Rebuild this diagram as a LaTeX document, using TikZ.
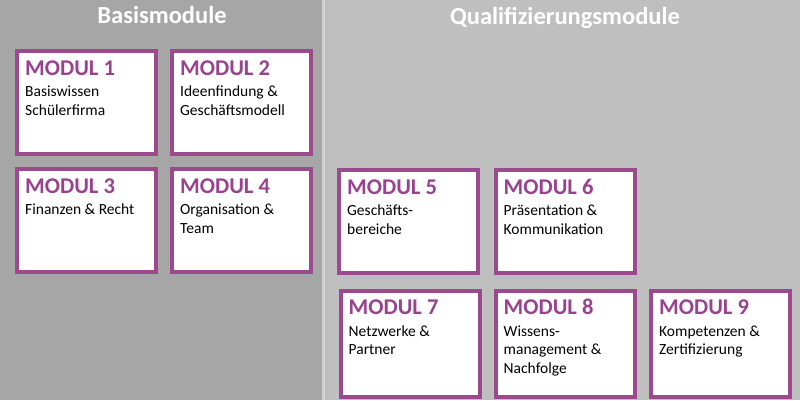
\documentclass[tikz,border=0pt]{standalone}
\usepackage{fontspec}
\setmainfont{Carlito}
\usepackage{xcolor}
\usepackage{tikz}
\usetikzlibrary{positioning}

\definecolor{basisgray}{HTML}{A6A6A6}
\definecolor{qualigray}{HTML}{BFBFBF}
\definecolor{modframe}{HTML}{9A4A8D}
\definecolor{modpurple}{HTML}{9A4290}

% description text, baseline = first line
\newcommand{\modtext}[1]{\parbox[t]{132pt}{\raggedright #1}}

\begin{document}
\begin{tikzpicture}[x=1pt, y=-1pt,
  modbox/.style={draw=modframe, line width=4pt, fill=white, inner sep=0pt,
    minimum width=139pt, minimum height=103pt},
  modname/.style={anchor=base west, inner sep=0pt, text=modpurple,
    font=\fontsize{22.5}{24}\selectfont\bfseries},
  moddesc/.style={anchor=base west, inner sep=0pt,
    font=\fontsize{15.5}{18.7}\selectfont},
  heading/.style={inner sep=0pt, anchor=base, text=white,
    font=\fontsize{24.5}{28}\selectfont\bfseries}]
\useasboundingbox (0,0) rectangle (800,400);
\fill[basisgray] (0,0) rectangle (322,400);
\fill[qualigray] (322,0) rectangle (800,400);
\fill[qualigray!70!white] (322,0) rectangle (325,400);

\node[heading] (basis) at (162,23.5) {Basismodule};
\node[heading] (quali) at (565,24.5) {Qualifizierungsmodule};

% Basismodule
\node[modbox] (m1) at (86.5,102.5) {};
\node[modbox] (m2) at (241.5,102.5) {};
\node[modbox] (m3) at (86.5,220.5) {};
\node[modbox] (m4) at (241.5,220.5) {};

% Qualifizierungsmodule
\node[modbox] (m5) at (408.5,221.5) {};
\node[modbox] (m6) at (565,221.5) {};
\node[modbox, minimum height=106pt] (m7) at (410,343.5) {};
\node[modbox, minimum height=106pt] (m8) at (565,343.5) {};
\node[modbox, minimum height=106pt] (m9) at (720.5,343.5) {};

% texts
\node[modname] (n1) at ([xshift=10pt,yshift=-26pt]m1.north west) {MODUL 1};
\node[moddesc] (d1) at ([xshift=10pt,yshift=-47.5pt]m1.north west) {\modtext{Basiswissen\\Schülerfirma}};
\node[modname] (n2) at ([xshift=10pt,yshift=-26pt]m2.north west) {MODUL 2};
\node[moddesc] (d2) at ([xshift=10pt,yshift=-47.5pt]m2.north west) {\modtext{Ideenfindung \&\\Geschäftsmodell}};
\node[modname] (n3) at ([xshift=10pt,yshift=-26pt]m3.north west) {MODUL 3};
\node[moddesc] (d3) at ([xshift=10pt,yshift=-47.5pt]m3.north west) {\modtext{Finanzen \& Recht}};
\node[modname] (n4) at ([xshift=10pt,yshift=-26pt]m4.north west) {MODUL 4};
\node[moddesc] (d4) at ([xshift=10pt,yshift=-47.5pt]m4.north west) {\modtext{Organisation \&\\Team}};
\node[modname] (n5) at ([xshift=10pt,yshift=-26pt]m5.north west) {MODUL 5};
\node[moddesc] (d5) at ([xshift=10pt,yshift=-47.5pt]m5.north west) {\modtext{Geschäfts-\\bereiche}};
\node[modname] (n6) at ([xshift=10pt,yshift=-26pt]m6.north west) {MODUL 6};
\node[moddesc] (d6) at ([xshift=10pt,yshift=-47.5pt]m6.north west) {\modtext{Präsentation \&\\Kommunikation}};
\node[modname] (n7) at ([xshift=10pt,yshift=-26pt]m7.north west) {MODUL 7};
\node[moddesc] (d7) at ([xshift=10pt,yshift=-47.5pt]m7.north west) {\modtext{Netzwerke \&\\Partner}};
\node[modname] (n8) at ([xshift=10pt,yshift=-26pt]m8.north west) {MODUL 8};
\node[moddesc] (d8) at ([xshift=10pt,yshift=-47.5pt]m8.north west) {\modtext{Wissens-\\management \&\\Nachfolge}};
\node[modname] (n9) at ([xshift=10pt,yshift=-26pt]m9.north west) {MODUL 9};
\node[moddesc] (d9) at ([xshift=10pt,yshift=-47.5pt]m9.north west) {\modtext{Kompetenzen \&\\Zertifizierung}};
\end{tikzpicture}
\end{document}
